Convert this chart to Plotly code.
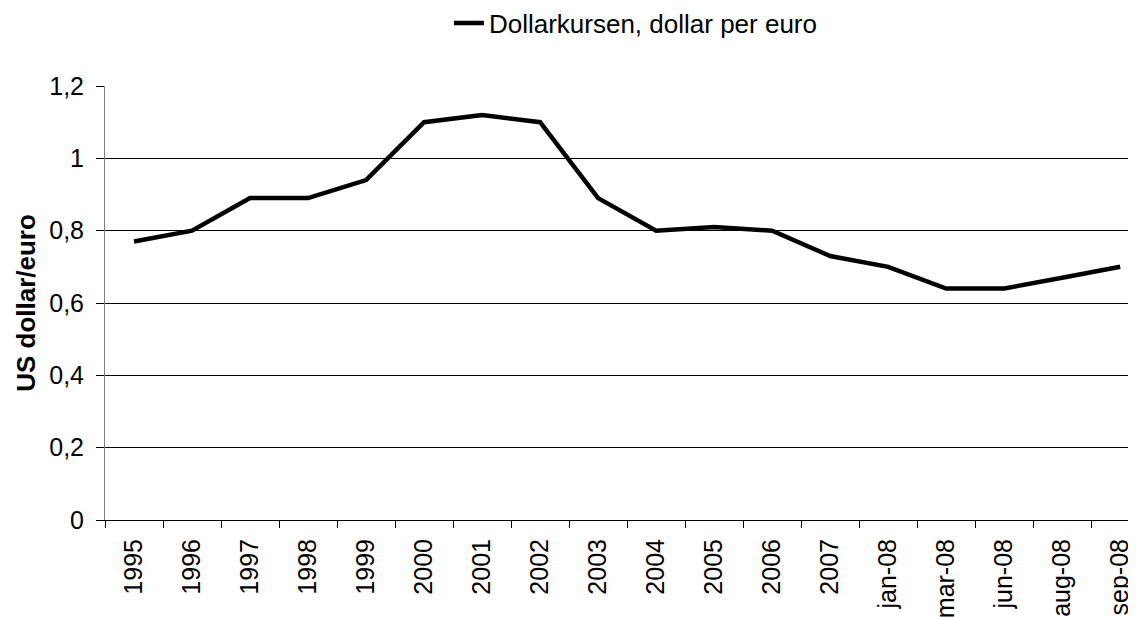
import plotly.graph_objects as go

categories = ["1995", "1996", "1997", "1998", "1999", "2000", "2001", "2002", "2003",
              "2004", "2005", "2006", "2007", "jan-08", "mar-08", "jun-08", "aug-08", "sep-08"]
values = [0.77, 0.80, 0.89, 0.89, 0.94, 1.10, 1.12, 1.10, 0.89,
          0.80, 0.81, 0.80, 0.73, 0.70, 0.64, 0.64, 0.67, 0.70]
series_name = "Dollarkursen, dollar per euro"
y_ticks = [0, 0.2, 0.4, 0.6, 0.8, 1.0, 1.2]
y_ticktext = ["0", "0,2", "0,4", "0,6", "0,8", "1", "1,2"]

FONT = "Liberation Sans, Arial, sans-serif"

fig = go.Figure()
fig.add_trace(go.Scatter(
    x=categories, y=values, mode="lines", name=series_name,
    line=dict(color="black", width=4.5),
))

fig.update_layout(
    width=1136, height=617,
    margin=dict(l=97, r=0, t=78, b=105, autoexpand=False),
    paper_bgcolor="white", plot_bgcolor="white",
    font=dict(family=FONT, size=25, color="black"),
    showlegend=True,
    legend=dict(
        orientation="h", x=0.511, xanchor="center",
        yref="container", y=1 - 15 / 617, yanchor="middle",
        font=dict(size=26), bgcolor="rgba(0,0,0,0)",
    ),
    xaxis=dict(
        type="category", range=[-0.5, 17.41], automargin=False,
        tickson="boundaries", ticks="outside", ticklen=7, tickcolor="black",
        showline=True, linecolor="black", linewidth=1,
        showgrid=False, tickangle=-90, ticklabelstandoff=8,
        tickfont=dict(size=25),
    ),
    yaxis=dict(
        range=[0, 1.2], tickvals=y_ticks, ticktext=y_ticktext, automargin=False,
        ticks="outside", ticklen=8, tickcolor="black",
        showline=True, linecolor="#808080", linewidth=1,
        showgrid=True, gridcolor="black", gridwidth=1, zeroline=False,
        ticklabelstandoff=7, tickfont=dict(size=25),
        title=dict(text="<b>US dollar/euro</b>", font=dict(size=26), standoff=6),
    ),
)

fig.write_html("out.html")
